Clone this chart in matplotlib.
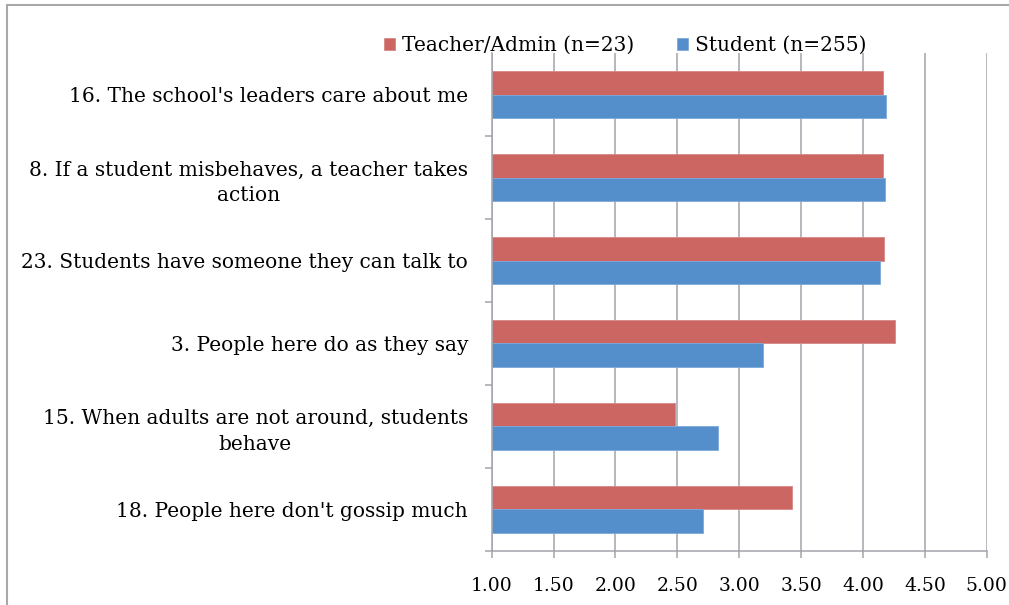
import matplotlib
matplotlib.use("Agg")
import matplotlib.pyplot as plt
import numpy as np
from matplotlib.patches import Rectangle
from matplotlib.ticker import FixedLocator

categories = [
    "16. The school's leaders care about me",
    "8. If a student misbehaves, a teacher takes\naction",
    "23. Students have someone they can talk to",
    "3. People here do as they say",
    "15. When adults are not around, students\nbehave",
    "18. People here don't gossip much",
]
teacher = [4.16, 4.16, 4.17, 4.26, 2.48, 3.43]
student = [4.19, 4.18, 4.14, 3.19, 2.83, 2.71]
series_names = ["Teacher/Admin (n=23)", "Student (n=255)"]
xticks = [1.0, 1.5, 2.0, 2.5, 3.0, 3.5, 4.0, 4.5, 5.0]

RED = "#CC6662"
BLUE = "#548ECB"
GRID = "#A3A3AB"

plt.rcParams["font.family"] = ["DejaVu Serif"]
FS = 14.5

fig = plt.figure(figsize=(10.09, 6.05), dpi=100)
ax = fig.add_axes([491.7/1009, 1-550.7/605, (986.7-491.7)/1009, (550.7-53.3)/605])

y = np.arange(len(categories))
h = 0.285
ax.barh(y - h/2, np.array(teacher) - 1.0, left=1.0, height=h, color=RED,
        edgecolor="#D98884", linewidth=0.6, label=series_names[0], zorder=3)
ax.barh(y + h/2, np.array(student) - 1.0, left=1.0, height=h, color=BLUE,
        edgecolor="#7FA9D8", linewidth=0.6, label=series_names[1], zorder=3)

ax.set_xlim(1.0, 5.0)
ax.set_ylim(len(categories) - 0.5, -0.5)
ax.set_xticks(xticks)
ax.set_xticklabels([f"{v:.2f}" for v in xticks], fontsize=FS - 1)
ax.set_yticks(y)
ax.set_yticklabels(categories, fontsize=FS, multialignment="center", linespacing=1.45)
ax.yaxis.set_minor_locator(FixedLocator(np.arange(0.5, len(categories), 1.0)))
ax.tick_params(axis="y", which="major", length=0, pad=17)
ax.tick_params(axis="y", which="minor", length=5, width=1.1, color=GRID, direction="out")
ax.tick_params(axis="x", which="major", length=5, width=1.1, color=GRID, direction="out", pad=14)

ax.xaxis.grid(True, color=GRID, linewidth=1.1, zorder=0)
ax.set_axisbelow(True)
for s in ["top", "right"]:
    ax.spines[s].set_visible(False)
for s in ["left", "bottom"]:
    ax.spines[s].set_color(GRID)
    ax.spines[s].set_linewidth(1.1)
    ax.spines[s].set_zorder(4)

fig.legend(loc="center", bbox_to_anchor=(625/1009, 1-45.5/605), ncol=2, frameon=False,
           fontsize=FS, handlelength=0.55, handleheight=0.55, handletextpad=0.35,
           columnspacing=2.1, borderpad=0)

fig.patches.append(Rectangle((7/1009, -0.1), 1.2, 1.1 - 5/605, transform=fig.transFigure,
                             fill=False, edgecolor="#A8A8A8", linewidth=1.5))

fig.savefig("out.png", dpi=100)
